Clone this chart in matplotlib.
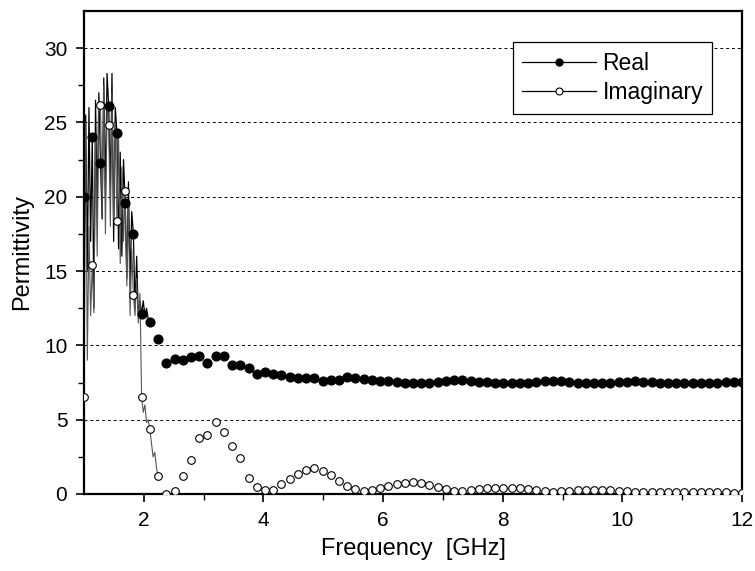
import matplotlib
matplotlib.use("Agg")
import matplotlib.pyplot as plt
from matplotlib.lines import Line2D
import numpy as np

# marker samples, one every 0.1375 GHz from 1 to 12 GHz
freq_start = 1.0
freq_step = 0.1375

real_vals = [20.0, 24.0, 22.3, 26.1, 24.3, 19.6, 17.5, 12.1, 11.6, 10.4,
             8.8, 9.1, 9.0, 9.2, 9.3, 8.8, 9.3, 9.3, 8.7, 8.7,
             8.5, 8.1, 8.2, 8.05, 8.0, 7.9, 7.8, 7.8, 7.8, 7.6,
             7.7, 7.7, 7.9, 7.8, 7.75, 7.7, 7.6, 7.6, 7.55, 7.5,
             7.45, 7.45, 7.5, 7.55, 7.6, 7.65, 7.65, 7.6, 7.55, 7.55,
             7.5, 7.45, 7.45, 7.5, 7.5, 7.55, 7.6, 7.6, 7.6, 7.55,
             7.5, 7.45, 7.45, 7.45, 7.5, 7.55, 7.55, 7.6, 7.55, 7.55,
             7.5, 7.5, 7.5, 7.5, 7.5, 7.5, 7.5, 7.5, 7.55, 7.55, 7.55]

imag_vals = [6.5, 15.4, 26.2, 24.8, 18.4, 20.4, 13.4, 6.5, 4.4, 1.2,
             0.0, 0.2, 1.2, 2.3, 3.8, 4.0, 4.85, 4.2, 3.2, 2.4,
             1.1, 0.5, 0.3, 0.3, 0.7, 1.0, 1.35, 1.6, 1.73, 1.55,
             1.28, 0.9, 0.56, 0.31, 0.22, 0.25, 0.43, 0.56, 0.67, 0.74,
             0.78, 0.72, 0.6, 0.5, 0.31, 0.22, 0.18, 0.27, 0.34, 0.38,
             0.43, 0.43, 0.43, 0.4, 0.34, 0.25, 0.18, 0.16, 0.18, 0.22,
             0.25, 0.27, 0.27, 0.27, 0.25, 0.22, 0.18, 0.16, 0.13, 0.15,
             0.15, 0.15, 0.15, 0.15, 0.15, 0.15, 0.15, 0.13, 0.13, 0.09, 0.05]

# noisy raw trace at low frequency, read every 0.0275 GHz
raw_start = 1.0
raw_step = 0.0275
real_raw = [20.0, 25.5, 15.0, 26.0, 17.0, 24.0, 12.5, 26.5, 19.0, 27.0,
            22.3, 18.5, 28.0, 20.0, 28.3, 26.1, 20.5, 28.3, 17.0, 26.0,
            24.3, 16.5, 23.0, 16.0, 22.5, 19.6, 14.5, 21.0, 14.0, 19.0,
            17.5, 12.5, 16.0, 12.0, 13.0, 12.1, 13.0, 12.0, 12.5, 11.8, 11.6]
imag_raw = [6.5, 25.0, 9.0, 18.0, 12.0, 15.4, 12.2, 24.0, 16.0, 26.5,
            26.2, 19.0, 27.5, 17.5, 26.0, 24.8, 18.0, 27.0, 18.5, 25.0,
            18.4, 24.0, 15.5, 22.0, 17.0, 20.4, 14.0, 19.5, 12.0, 16.5,
            13.4, 12.0, 14.5, 11.5, 13.5, 6.5, 5.5, 6.0, 4.8, 5.0,
            4.4, 3.4, 2.5, 2.8, 1.8, 1.2]

yticks = [0, 5, 10, 15, 20, 25, 30]
xticks = [2, 4, 6, 8, 10, 12]

f_marks = freq_start + freq_step * np.arange(len(real_vals))
f_real_raw = raw_start + raw_step * np.arange(len(real_raw))
f_imag_raw = raw_start + raw_step * np.arange(len(imag_raw))

tick_font = ['Liberation Sans Narrow', 'Liberation Sans', 'DejaVu Sans']
label_font = ['Liberation Sans', 'DejaVu Sans']

fig = plt.figure(figsize=(7.55, 5.71), dpi=100)
ax = fig.add_axes([0.1113, 0.1349, 0.8715, 0.8458])

for y in yticks[1:]:
    ax.axhline(y, color='black', lw=0.7, ls=(0, (3, 3)), zorder=0)

ax.plot(f_real_raw, real_raw, color='black', lw=0.9, zorder=2)
ax.plot(f_imag_raw, imag_raw, color='#555555', lw=0.8, zorder=2)

ax.plot(f_marks, real_vals, ls='none', marker='o', ms=6.3, color='black',
        mec='black', zorder=3)
ax.plot(f_marks, imag_vals, ls='none', marker='o', ms=5.5, mfc='white',
        mec='black', mew=0.8, zorder=3)

ax.set_xlim(1, 12)
ax.set_ylim(0, 32.5)
ax.set_xticks(xticks)
ax.set_xticks(np.arange(3, 12, 2), minor=True)
ax.set_yticks(yticks)
ax.set_yticks(np.arange(2.5, 32.5, 5), minor=True)
ax.tick_params(which='major', direction='out', length=6, width=1.2, pad=6)
ax.tick_params(which='minor', direction='out', length=4, width=1.0)
ax.tick_params(top=False, right=False)
for lab in ax.get_xticklabels() + ax.get_yticklabels():
    lab.set_family(tick_font)
    lab.set_fontsize(15)
for s in ax.spines.values():
    s.set_linewidth(1.6)

ax.set_xlabel('Frequency  [GHz]', family=label_font, fontsize=17, labelpad=6)
ax.set_ylabel('Permittivity', family=label_font, fontsize=17, labelpad=8)

handles = [Line2D([], [], color='black', lw=0.9, marker='o', ms=5, mfc='black'),
           Line2D([], [], color='black', lw=0.9, marker='o', ms=5, mfc='white', mew=0.8)]
leg = ax.legend(handles, ['Real', 'Imaginary'], loc='upper right',
                bbox_to_anchor=(0.955, 0.935), fancybox=False, framealpha=1,
                edgecolor='black', prop={'family': label_font, 'size': 16.5},
                handlelength=3.2, borderpad=0.4, labelspacing=0.3,
                handletextpad=0.3, borderaxespad=0)
leg.get_frame().set_linewidth(0.9)

fig.savefig('out.png', dpi=100)
